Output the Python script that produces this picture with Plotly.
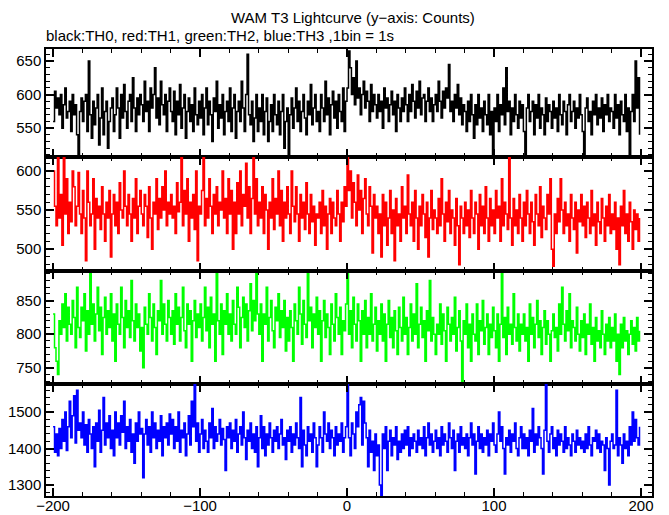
import plotly.graph_objects as go
from plotly.subplots import make_subplots

# ---- data (1 s bins, starting at t = -200 s) ----
bin_start = -200
bin_width = 1

th0_black = [
    560,605,580,595,570,600,550,585,610,565,575,590,545,600,570,585,540,510,575,595,
    560,590,600,545,650,570,535,590,555,580,600,525,565,610,540,575,590,520,560,580,
    595,545,570,610,580,535,600,565,615,575,550,590,600,560,625,580,545,595,570,600,
    585,560,620,575,590,545,610,580,600,640,565,595,555,620,585,570,600,545,590,610,
    575,560,605,540,590,570,615,550,580,600,535,575,595,560,585,545,610,570,555,590,
    565,600,540,580,610,555,590,570,530,595,575,620,550,585,565,600,540,575,590,560,
    610,545,580,600,535,575,590,560,620,580,545,600,660,570,555,590,530,565,600,545,
    580,560,600,540,575,595,530,560,585,545,600,570,555,590,540,575,600,520,560,580,
    505,570,595,550,580,610,560,590,545,575,600,565,540,590,570,615,555,580,600,560,
    575,545,600,580,560,620,570,595,540,585,605,565,590,550,600,575,560,610,545,590,
    610,665,640,600,625,585,650,595,610,570,600,620,580,605,590,560,615,575,600,585,
    565,600,575,590,550,610,580,595,560,585,605,570,590,545,600,580,560,595,575,610,
    585,560,600,575,615,590,565,605,580,620,570,595,600,560,590,610,575,595,560,585,
    600,575,620,590,565,605,580,610,595,645,575,590,560,600,580,615,570,595,555,585,
    575,545,590,560,600,570,535,585,555,600,565,580,545,590,570,555,600,540,575,505,
    580,560,600,545,585,570,610,555,640,575,590,540,580,560,600,570,550,590,565,585,
    545,505,580,600,560,575,590,540,585,565,600,550,580,570,540,595,560,585,575,550,
    590,565,580,545,600,570,555,590,575,540,585,600,560,575,590,550,580,565,600,570,
    545,505,580,595,560,575,540,590,570,600,555,580,565,595,545,585,570,600,560,580,
    575,550,600,565,585,540,590,570,560,600,545,580,510,575,600,560,650,580,625,540,
]

th1_red = [
    600,555,530,618,540,570,505,618,545,590,520,560,535,600,580,530,555,598,545,520,
    575,540,485,600,560,530,545,590,500,565,540,555,525,580,545,510,560,540,575,490,
    545,570,530,560,520,585,550,540,600,555,530,570,545,510,565,540,590,520,555,575,
    545,530,570,555,515,580,540,500,560,545,590,525,565,540,580,550,600,530,560,545,
    570,540,555,520,585,548,560,618,530,575,545,590,510,560,540,570,525,600,485,555,
    545,575,618,530,565,540,590,555,520,570,545,580,530,560,550,600,540,565,520,590,
    545,575,500,560,520,585,545,600,530,570,555,610,540,580,520,565,618,545,590,530,
    560,540,580,520,570,550,500,560,540,590,525,565,545,600,530,575,510,560,540,580,
    545,520,600,555,535,580,545,510,570,540,560,525,585,545,520,570,535,555,505,545,
    540,560,520,575,530,555,500,545,565,520,560,540,530,575,545,510,560,535,580,555,
    618,575,600,540,585,560,530,595,550,575,520,565,590,545,530,580,555,495,570,540,
    555,520,545,490,570,530,560,505,540,575,520,550,485,565,530,545,510,580,540,555,
    520,595,545,530,560,510,575,540,500,555,530,570,545,515,560,490,540,575,525,550,
    540,520,565,530,590,545,510,560,535,575,520,550,540,505,565,530,480,555,540,520,
    560,530,550,515,575,540,520,560,545,500,570,530,555,520,580,540,510,565,530,550,
    520,575,540,555,510,590,530,560,545,525,618,540,505,565,530,550,520,570,540,510,
    560,530,575,545,520,560,535,505,570,545,530,580,515,555,540,525,570,545,590,500,
    478,545,520,565,535,590,550,520,560,530,545,510,570,540,525,560,495,550,535,570,
    530,555,515,560,540,520,575,530,545,505,560,535,520,565,540,510,555,530,570,520,
    545,525,560,500,540,480,555,530,575,520,545,510,560,535,500,550,525,545,510,540,
]

th2_green = [
    830,780,760,740,820,800,845,810,860,790,840,815,800,850,825,780,870,810,795,840,
    820,860,775,835,800,890,815,845,790,830,870,805,840,770,825,855,800,835,810,860,
    790,830,760,845,815,800,870,825,780,850,810,835,795,880,820,790,845,810,830,775,
    810,750,840,815,800,860,825,790,845,810,770,835,820,880,800,845,815,790,850,825,
    800,835,785,860,815,840,790,825,870,805,780,845,815,835,760,820,850,795,830,810,
    845,790,825,870,805,840,780,855,815,830,760,890,820,800,845,770,835,815,860,800,
    830,790,850,815,800,870,840,780,825,855,810,845,790,835,875,805,850,820,890,830,
    800,845,760,830,815,870,790,825,850,805,780,840,820,860,795,835,810,850,775,825,
    790,835,810,760,845,820,800,870,830,785,850,815,795,890,820,840,780,830,810,855,
    800,835,760,820,850,795,830,810,770,845,815,790,860,825,800,840,770,820,805,845,
    890,800,835,780,855,815,790,845,820,760,835,800,850,780,825,800,860,790,815,840,
    775,820,800,845,790,830,760,815,850,795,825,780,835,805,770,840,810,790,855,800,
    825,770,810,845,790,830,800,875,780,815,840,795,820,760,835,805,880,790,825,800,
    770,815,800,845,785,830,805,760,840,815,790,825,800,855,775,810,835,790,730,820,
    800,845,780,815,760,830,800,790,845,770,820,805,850,785,810,830,770,815,795,840,
    805,780,830,760,815,890,795,825,770,840,800,815,785,860,810,790,830,775,815,800,
    830,790,810,760,845,800,825,780,815,850,795,820,770,810,835,785,820,800,760,805,
    830,795,810,775,845,800,870,815,790,835,805,860,780,820,810,790,840,800,775,820,
    795,830,770,815,800,845,785,810,760,825,790,805,780,835,800,770,815,790,825,780,
    810,790,830,760,800,740,815,780,825,790,805,770,800,820,785,810,775,825,790,805,
]

th3_blue = [
    1460,1390,1440,1380,1455,1400,1480,1420,1500,1395,1460,1530,1430,1490,1545,1415,1560,1450,1470,1430,
    1500,1410,1465,1390,1480,1440,1400,1460,1350,1470,1420,1505,1390,1450,1540,1410,1470,1430,1490,1400,
    1450,1380,1500,1430,1470,1410,1490,1445,1530,1400,1460,1420,1480,1390,1440,1360,1470,1420,1500,1440,
    1455,1320,1440,1480,1410,1460,1390,1500,1430,1470,1400,1450,1420,1490,1380,1460,1430,1470,1410,1495,
    1440,1480,1400,1460,1420,1500,1390,1450,1430,1470,1380,1440,1490,1410,1530,1460,1577,1420,1470,1390,
    1440,1480,1400,1450,1420,1390,1470,1430,1510,1400,1460,1420,1440,1480,1410,1455,1425,1340,1460,1430,
    1470,1400,1450,1420,1480,1390,1440,1460,1410,1500,1430,1370,1450,1420,1470,1400,1440,1390,1460,1350,
    1430,1490,1400,1460,1380,1440,1410,1470,1430,1390,1450,1420,1460,1400,1440,1480,1410,1430,1370,1450,
    1420,1460,1390,1440,1410,1470,1430,1400,1540,1350,1450,1410,1380,1460,1420,1440,1390,1470,1430,1350,
    1410,1460,1430,1390,1500,1440,1420,1470,1400,1450,1430,1380,1460,1410,1440,1420,1470,1390,1430,1460,
    1577,1430,1380,1470,1440,1400,1500,1460,1520,1540,1410,1530,1470,1430,1350,1450,1390,1420,1340,1440,
    1380,1410,1300,1270,1440,1400,1460,1340,1420,1450,1380,1430,1410,1460,1370,1420,1390,1440,1400,1450,
    1410,1460,1380,1430,1400,1440,1420,1390,1450,1410,1430,1400,1460,1380,1430,1470,1410,1440,1390,1420,
    1450,1400,1430,1380,1460,1410,1440,1420,1390,1470,1430,1400,1450,1340,1420,1440,1390,1460,1410,1430,
    1400,1440,1380,1430,1470,1410,1440,1330,1420,1460,1400,1440,1390,1430,1410,1450,1380,1440,1420,1470,
    1410,1390,1440,1500,1420,1460,1400,1330,1430,1410,1450,1390,1440,1420,1470,1400,1380,1430,1460,1400,
    1440,1400,1430,1380,1450,1420,1510,1390,1440,1410,1460,1430,1400,1330,1450,1577,1420,1390,1440,1460,
    1400,1430,1380,1450,1410,1440,1420,1390,1460,1400,1430,1410,1380,1440,1420,1390,1450,1410,1430,1400,
    1420,1390,1440,1400,1460,1410,1380,1430,1420,1450,1400,1440,1390,1420,1410,1340,1430,1400,1300,1420,
    1440,1400,1410,1560,1380,1430,1410,1360,1440,1400,1420,1380,1460,1410,1500,1420,1480,1430,1410,1460,
]

series_names = ["TH0", "TH1", "TH2", "TH3"]
series_values = [th0_black, th1_red, th2_green, th3_blue]
series_colors = ["#000000", "#ff0000", "#00ff00", "#0000ff"]

y_ranges = [[507, 668], [472, 618], [726, 894], [1270, 1577]]
y_dticks = [50, 50, 50, 100]
y_minor = [10, 10, 10, 20]
x_range = [-204.8, 207.5]

title_text = "WAM T3 Lightcurve (y\u2212axis: Counts)"
subtitle_text = "black:TH0, red:TH1, green:TH2, blue:TH3 ,1bin = 1s"

# ---- figure (page has an 8 px body margin, so the div sits at (8, 8)) ----
OFF = 8
W, H = 669 - OFF, 515 - OFF
page_left, page_right, page_top, page_bottom = 46, 652, 49, 496
ml = page_left - OFF
mr = W - (page_right - OFF)
mt = page_top - OFF
mb = H - (page_bottom - OFF)
plot_h = H - mt - mb
bounds_px = [49, 157, 271, 384, 496]
domains = []
for i in range(4):
    top = 1 - (bounds_px[i] - page_top) / plot_h
    bot = 1 - (bounds_px[i + 1] - page_top) / plot_h
    domains.append([max(0, bot), min(1, top)])

fig = make_subplots(rows=4, cols=1, shared_xaxes=True, vertical_spacing=0)

for i, (name, vals, col) in enumerate(zip(series_names, series_values, series_colors)):
    xs = [bin_start + k * bin_width for k in range(len(vals))]
    fig.add_trace(
        go.Scatter(x=xs, y=vals, mode="lines", line=dict(color=col, width=1.5, shape="hv"),
                   name=name, showlegend=False),
        row=i + 1, col=1,
    )

font_family = "Liberation Sans, Arial, Helvetica, sans-serif"

for i in range(4):
    ax_x = "xaxis" if i == 0 else f"xaxis{i+1}"
    ax_y = "yaxis" if i == 0 else f"yaxis{i+1}"
    fig.layout[ax_x].update(
        range=x_range, showgrid=False, zeroline=False, automargin=False,
        showline=True, linecolor="black", linewidth=1.5, mirror="ticks",
        ticks="inside", ticklen=8, tickwidth=1.5, tickcolor="black",
        dtick=100, tick0=0, ticklabelstandoff=-5,
        minor=dict(ticks="inside", ticklen=4, dtick=20, tick0=0, tickcolor="black", tickwidth=1),
        showticklabels=(i == 3),
        tickfont=dict(family=font_family, size=15, color="black"),
    )
    fig.layout[ax_y].update(
        range=y_ranges[i], domain=domains[i], showgrid=False, zeroline=False, automargin=False,
        showline=True, linecolor="black", linewidth=1.5, mirror="ticks",
        ticks="inside", ticklen=8, tickwidth=1.5, tickcolor="black",
        dtick=y_dticks[i], tick0=0,
        minor=dict(ticks="inside", ticklen=4, dtick=y_minor[i], tick0=0, tickcolor="black", tickwidth=1),
        tickfont=dict(family=font_family, size=15, color="black"),
    )

fig.update_layout(
    width=W, height=H,
    margin=dict(l=ml, r=mr, t=mt, b=mb, autoexpand=False),
    paper_bgcolor="white", plot_bgcolor="white",
    font=dict(family=font_family, size=15, color="black"),
    showlegend=False,
    annotations=[
        dict(text=title_text, x=0.5, y=1, xref="paper", yref="paper",
             xanchor="center", yanchor="bottom", yshift=21, xshift=4, showarrow=False,
             font=dict(family=font_family, size=15, color="black")),
        dict(text=subtitle_text, x=0, y=1, xref="paper", yref="paper",
             xanchor="left", yanchor="bottom", yshift=3, xshift=-2, showarrow=False,
             font=dict(family=font_family, size=15, color="black")),
    ],
)

fig.write_html("out.html")
